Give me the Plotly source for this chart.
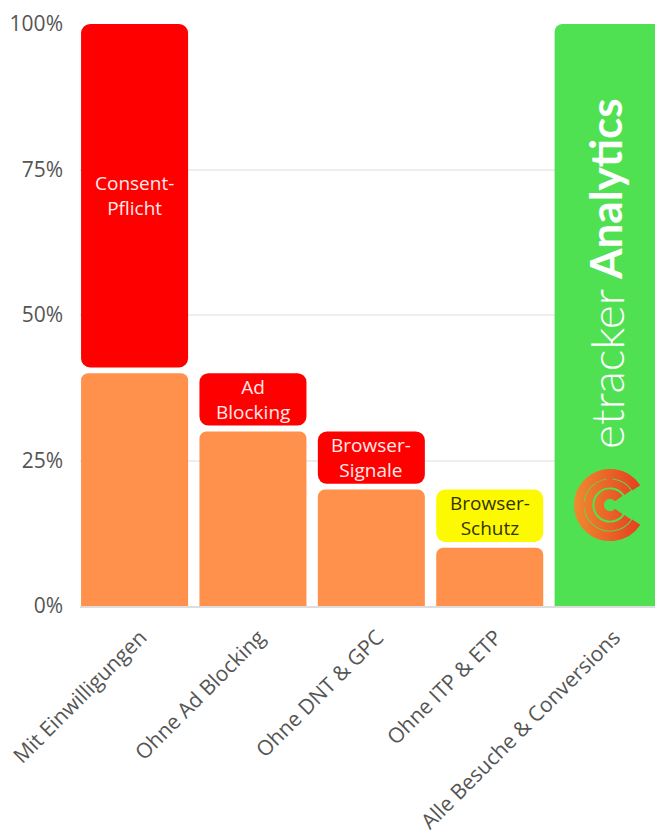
import base64
import plotly.graph_objects as go

categories = ["Mit Einwilligungen", "Ohne Ad Blocking", "Ohne DNT & GPC", "Ohne ITP & ETP", "Alle Besuche & Conversions"]
orange_values = [40, 30, 20, 10]
green_values = [100]
block_low = [41, 31, 21, 11]
block_high = [100, 40, 30, 20]
block_labels = ["Consent-<br>Pflicht", "Ad<br>Blocking", "Browser-<br>Signale", "Browser-<br>Schutz"]
block_colors = ["#ff0000", "#ff0000", "#ff0000", "#fdf900"]
block_text_colors = ["#ffe9e9", "#ffe9e9", "#ffe9e9", "#333300"]
y_ticks = [0, 25, 50, 75, 100]
y_tick_labels = ["0%", "25%", "50%", "75%", "100%"]

FONT = "Open Sans"
LOGO_FONT = "Lato"
W, H = 655, 836
L, T, B = 80, 24, 230
PW, PH = W - L, H - T - B


def px(x):
    return (x - L) / PW


def py(y):
    return (H - B - y) / PH


BAR_W = 0.904
fig = go.Figure()
fig.add_bar(x=categories[:4], y=orange_values, width=BAR_W, marker=dict(color="#ff914d", cornerradius=7, line_width=0))
fig.add_bar(x=categories[4:], y=green_values, width=BAR_W, marker=dict(color="#50e153", cornerradius=8, line_width=0))
mids = [(a + b) / 2 for a, b in zip(block_low, block_high)]
heights = [b - a for a, b in zip(block_low, block_high)]
fig.add_bar(x=categories[:4], y=heights, base=block_low, width=BAR_W, yaxis="y2",
            marker=dict(color=block_colors, cornerradius=9, line_width=0))

for c, m, t, col in zip(categories, mids, block_labels, block_text_colors):
    fig.add_annotation(x=c, y=m, text=t, showarrow=False, font=dict(family=FONT, size=19, color=col),
                       xref="x", yref="y", align="center")

fig.add_annotation(x=px(605), y=py(189), xref="paper", yref="paper", text="Analytics", textangle=-90, showarrow=False,
                   xanchor="center", yanchor="middle",
                   font=dict(family=LOGO_FONT, size=44, color="#ffffff", weight=700))
fig.add_annotation(x=px(606), y=py(369), xref="paper", yref="paper", text="etracker", textangle=-90, showarrow=False,
                   xanchor="center", yanchor="middle",
                   font=dict(family=LOGO_FONT, size=46, color="#ffffff", weight=300))

svg = """<svg xmlns='http://www.w3.org/2000/svg' width='80' height='80' viewBox='-40 -40 80 80'>
<defs><linearGradient id='g' gradientUnits='userSpaceOnUse' x1='-36' y1='0' x2='36' y2='0'>
<stop offset='0' stop-color='#ef8a2e'/><stop offset='1' stop-color='#e4391f'/></linearGradient></defs>
<g fill='none' stroke='url(#g)'>
<path stroke-width='9.5' d='M 26.3 -17.1 A 31.3 31.3 0 1 0 26.3 17.1'/>
<path stroke-width='8' d='M 17.8 -12.2 A 21.6 21.6 0 1 0 17.8 12.2'/>
<path stroke-width='9.5' d='M 8.8 -6.5 A 10.9 10.9 0 1 0 8.8 6.5'/>
</g>
<g fill='url(#g)'><circle cx='-0.7' cy='-26.5' r='3'/><circle cx='-26' cy='0' r='3'/></g>
</svg>"""
logo = "data:image/svg+xml;base64," + base64.b64encode(svg.encode()).decode()
fig.add_layout_image(source=logo, xref="paper", yref="paper", x=px(570), y=py(465),
                     sizex=80 / PW, sizey=80 / PH, xanchor="left", yanchor="top", layer="above")

fig.update_layout(
    width=W, height=H, margin=dict(l=L, r=0, t=T, b=B, pad=0),
    barmode="overlay", showlegend=False, paper_bgcolor="white", plot_bgcolor="white",
    font=dict(family=FONT, color="#555555"),
    yaxis2=dict(overlaying="y", range=[0, 100], visible=False),
)
fig.update_xaxes(type="category", categoryorder="array", categoryarray=categories,
                 range=[-0.461, 4.396], tickangle=-45, showgrid=False,
                 tickfont=dict(family=FONT, size=21, color="#555555"),
                 showline=True, linecolor="#dddddd", linewidth=1.5, ticks="", automargin=False,
                 ticklabelstandoff=9, ticklabelshift=6)
fig.update_yaxes(range=[0, 100], tickvals=y_ticks, ticktext=y_tick_labels,
                 tickfont=dict(family=FONT, size=21, color="#555555"),
                 gridcolor="#eeeeee", gridwidth=1.5, zeroline=False, ticks="",
                 ticklabelstandoff=16, automargin=False, selector=dict(overlaying=None))
fig.write_html("out.html", config=dict(displayModeBar=False),
               post_script="document.body.style.margin='0';document.body.style.overflow='hidden';")
